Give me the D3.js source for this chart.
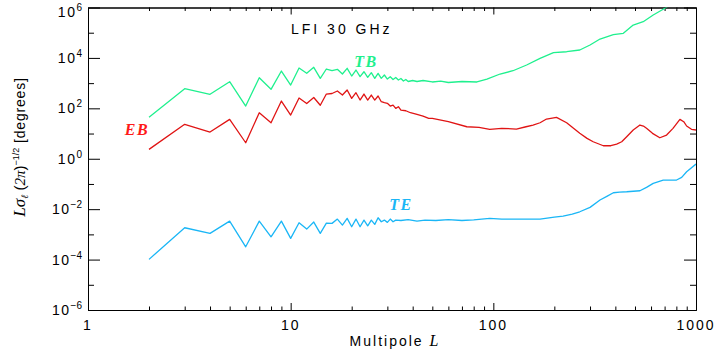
<!DOCTYPE html>
<html>
<head>
<meta charset="utf-8">
<script src="https://cdn.jsdelivr.net/npm/d3@7"></script>
<style>
  body { margin: 0; background: #fff; }
  svg { display: block; }
  .sans { font-family: "Liberation Sans", Arial, sans-serif; }
  .serif { font-family: "Liberation Serif", "Times New Roman", serif; font-style: italic; }
</style>
</head>
<body>
<div id="chart"></div>
<script>
// multipole values and L*sigma_l*(2pi)^-1/2 in degrees
const tbL = [2, 3, 4, 5, 6, 7, 8, 9, 10, 11, 12, 13, 14, 15, 16, 17, 18, 19, 20, 21, 22, 23, 24, 25, 26, 27, 28, 29, 30,
  31, 32, 33, 34, 35, 36, 37, 38, 40, 42, 45, 50, 55, 60, 70, 83, 93, 108, 125, 146, 170, 198, 230, 267, 300, 336,
  391, 438, 490, 549, 615, 689, 743, 850, 1000]
const tbVal = [44, 600, 360, 1140, 123, 1640, 568, 3020, 841, 3970, 2450, 4240, 1550, 3630, 3110, 3530, 2300, 3870, 1910,
  3310, 1800, 2830, 1700, 2590, 1550, 2450, 1550, 2100, 1450, 1800, 1390, 1670, 1330, 1520, 1210, 1390, 1160, 1270,
  1160, 1270, 1110, 1210, 1060, 1160, 1110, 1450, 2300, 3100, 5230, 9640, 16100, 17600, 20600, 32500, 56200, 83400,
  94700, 202000, 273000, 504000, 849000, 1.26e6, 2e6, 4e6]

const ebL = [2, 3, 4, 5, 6, 7, 8, 9, 10, 11, 12, 13, 14, 15, 16, 17, 18, 19, 20, 21, 22, 23, 24, 25, 26, 27, 28, 29, 30,
  31, 32, 33, 34, 35, 37, 39, 42, 45, 48, 50, 60, 74, 85, 96, 110, 130, 145, 157, 170, 183, 205, 230, 267, 290, 311,
  349, 380, 406, 430, 455, 490, 529, 550, 570, 610, 663, 716, 770, 833, 870, 899, 950, 1000]
const ebVal = [2.36, 23.2, 11.5, 36.6, 4.31, 66.9, 26.8, 195, 54.2, 256, 155, 268, 133, 369, 387, 486, 337, 532, 249, 416,
  213, 369, 213, 337, 213, 308, 183, 167, 158, 123, 135, 100, 116, 85.7, 80.3, 66.9, 57.8, 49.5, 40.1, 40, 29.4, 18.6,
  17.6, 14.7, 16.1, 15.1, 18.6, 21.8, 26.8, 37.6, 44, 26.8, 10.2, 6.45, 4.73, 3.28, 3.28, 3.83, 4.73, 7.46, 13.8, 21.8,
  19.9, 16.1, 10.2, 6.81, 8.7, 16.1, 36.6, 29.4, 19.9, 14.7, 13.8]

const teL = [2, 3, 4, 5, 6, 7, 8, 9, 10, 11, 12, 13, 14, 15, 16, 17, 18, 19, 20, 21, 22, 23, 24, 25, 26, 27, 28, 29, 30,
  31, 32, 33, 35, 38, 42, 46, 52, 60, 70, 80, 96, 110, 130, 170, 200, 221, 245, 267, 300, 336, 365, 391, 420, 455, 529,
  570, 615, 689, 802, 850, 899, 1000]
const teVal = [1.02e-4, 1.83e-3, 1.1e-3, 3.37e-3, 3.22e-4, 3.37e-3, 8.03e-4, 3.37e-3, 6.94e-4, 2.88e-3, 1.62e-3, 3.08e-3,
  1.1e-3, 2.81e-3, 2.73e-3, 4.05e-3, 2.34e-3, 4.31e-3, 2.0e-3, 4.05e-3, 2.0e-3, 3.69e-3, 2.19e-3, 3.69e-3, 2.49e-3,
  4.56e-3, 3.16e-3, 3.69e-3, 2.99e-3, 4.05e-3, 3.16e-3, 3.69e-3, 3.55e-3, 3.87e-3, 3.37e-3, 3.69e-3, 3.55e-3, 3.87e-3,
  3.55e-3, 3.74e-3, 4.31e-3, 4.05e-3, 4.05e-3, 4.05e-3, 4.86e-3, 5.32e-3, 6.39e-3, 7.89e-3, 1.18e-2, 2.3e-2, 3.31e-2,
  4.48e-2, 4.77e-2, 4.9e-2, 5.37e-2, 7.33e-2, 0.106, 0.143, 0.143, 0.183, 0.305, 0.616]

const xMajor = [1, 10, 100, 1000]
const yExp = [-6, -4, -2, 0, 2, 4, 6]

const width = 717
const height = 356
const margin = { left: 88, right: 21, top: 7.5, bottom: 46 }

const x = d3.scaleLog().domain([1, 1000]).range([margin.left, width - margin.right])
const y = d3.scaleLog().domain([1e-6, 1e6]).range([height - margin.bottom, margin.top])

const svg = d3.select("#chart").append("svg")
  .attr("width", width)
  .attr("height", height)

svg.append("defs").append("clipPath").attr("id", "plotClip")
  .append("rect")
  .attr("x", margin.left).attr("y", margin.top)
  .attr("width", x(1000) - x(1)).attr("height", y(1e-6) - y(1e6))

// minor ticks: 2..9 per decade on x, odd decades on y
const xMinor = []
for (let dec of [1, 10, 100]) {
  for (let k = 2; k <= 9; k++) xMinor.push(dec * k)
}
const yMinor = [-5, -3, -1, 1, 3, 5].map(e => Math.pow(10, e))
const yMajorV = yExp.map(e => Math.pow(10, e))

function drawAxis(axisFn, scale, values, size, transform) {
  svg.append("g")
    .attr("transform", transform)
    .call(axisFn(scale).tickValues(values).tickSize(size).tickFormat("").tickSizeOuter(0))
    .call(g => g.selectAll("line").attr("stroke", "#000"))
    .call(g => g.select(".domain").attr("stroke", "#000"))
}

const bottomY = y(1e-6)
const topY = y(1e6)
const leftX = x(1)
const rightX = x(1000)

drawAxis(d3.axisBottom, x, xMajor, -7, `translate(0,${bottomY})`)
drawAxis(d3.axisBottom, x, xMinor, -3.5, `translate(0,${bottomY})`)
drawAxis(d3.axisTop, x, xMajor, -7, `translate(0,${topY})`)
drawAxis(d3.axisTop, x, xMinor, -3.5, `translate(0,${topY})`)
drawAxis(d3.axisLeft, y, yMajorV, -12, `translate(${leftX},0)`)
drawAxis(d3.axisLeft, y, yMinor, -6, `translate(${leftX},0)`)
drawAxis(d3.axisRight, y, yMajorV, -12, `translate(${rightX},0)`)
drawAxis(d3.axisRight, y, yMinor, -6, `translate(${rightX},0)`)

// tick labels
svg.append("g").selectAll("text")
  .data(xMajor)
  .enter()
  .append("text")
  .attr("class", "sans")
  .attr("x", d => x(d))
  .attr("y", bottomY + 20)
  .attr("text-anchor", "middle")
  .attr("font-size", 14)
  .attr("letter-spacing", 2)
  .text(d => d)

const yLab = svg.append("g").selectAll("text")
  .data(yExp)
  .enter()
  .append("text")
  .attr("class", "sans")
  .attr("x", 82)
  .attr("y", d => Math.max(y(Math.pow(10, d)), 12) + 5)
  .attr("text-anchor", "end")
  .attr("font-size", 14)
  .attr("letter-spacing", 1.5)
yLab.append("tspan").text("10")
yLab.append("tspan")
  .attr("dy", -6)
  .attr("font-size", 10)
  .attr("letter-spacing", 0)
  .text(d => d < 0 ? "\u2212" + (-d) : d)

// series
const line = d3.line().x(d => x(d[0])).y(d => y(d[1]))
const series = [
  { L: tbL, v: tbVal, color: "#1ff08e" },
  { L: ebL, v: ebVal, color: "#e01414" },
  { L: teL, v: teVal, color: "#1ab6f6" }
]
svg.append("g").attr("clip-path", "url(#plotClip)")
  .selectAll("path")
  .data(series)
  .enter()
  .append("path")
  .attr("fill", "none")
  .attr("stroke", d => d.color)
  .attr("stroke-width", 1.3)
  .attr("stroke-linejoin", "round")
  .attr("d", d => line(d.L.map((l, i) => [l, d.v[i]])))

// series labels
const labels = [
  { text: "TB", x: 366, y: 67, color: "#1ff08e" },
  { text: "EB", x: 137, y: 135, color: "#ff1a1a" },
  { text: "TE", x: 401, y: 210, color: "#1ab6f6" }
]
svg.append("g").selectAll("text")
  .data(labels)
  .enter()
  .append("text")
  .attr("class", "serif")
  .attr("x", d => d.x)
  .attr("y", d => d.y)
  .attr("text-anchor", "middle")
  .attr("font-size", 16)
  .attr("font-weight", "bold")
  .attr("letter-spacing", 1.5)
  .attr("fill", d => d.color)
  .text(d => d.text)

// title
svg.append("text")
  .attr("class", "sans")
  .attr("x", 291)
  .attr("y", 34)
  .attr("font-size", 14)
  .attr("letter-spacing", 3)
  .text("LFI 30 GHz")

// x title
const xt = svg.append("text")
  .attr("x", 394)
  .attr("y", 346)
  .attr("text-anchor", "middle")
xt.append("tspan").attr("class", "sans").attr("font-size", 14).attr("letter-spacing", 2).text("Multipole ")
xt.append("tspan").attr("class", "serif").attr("font-size", 16).text("L")

// y title
const yt = svg.append("text")
  .attr("transform", "translate(25,147) rotate(-90)")
  .attr("text-anchor", "middle")
yt.append("tspan").attr("class", "serif").attr("font-size", 17).text("L\u03c3")
yt.append("tspan").attr("class", "serif").attr("font-size", 10).attr("dy", 3).text("\u2113")
yt.append("tspan").attr("class", "sans").attr("font-size", 15).attr("dy", -3).text(" (")
yt.append("tspan").attr("class", "serif").attr("font-size", 15).text("2\u03c0")
yt.append("tspan").attr("class", "sans").attr("font-size", 15).text(")")
yt.append("tspan").attr("class", "sans").attr("font-size", 9).attr("dy", -6).text("\u22121/2")
yt.append("tspan").attr("class", "sans").attr("font-size", 14).attr("dy", 6).attr("letter-spacing", 0.8).text(" [degrees]")
</script>
</body>
</html>
